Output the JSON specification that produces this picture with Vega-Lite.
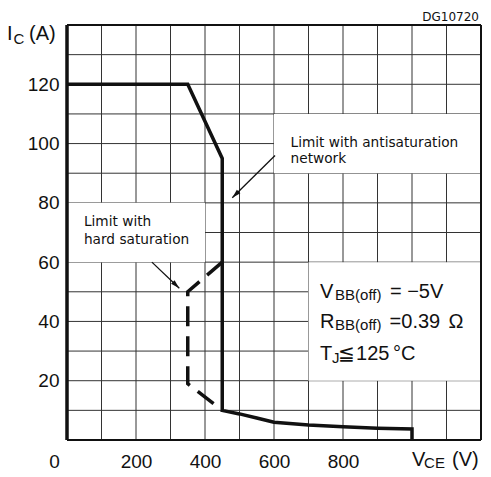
{
  "$schema": "https://vega.github.io/schema/vega-lite/v6.json",
  "width": 414,
  "height": 415,
  "autosize": {"type": "none"},
  "padding": {"left": 67, "top": 25, "right": 10, "bottom": 37},
  "background": "white",
  "config": {
    "view": {"stroke": null},
    "font": "Liberation Sans",
    "axis": {"grid": false, "tickSize": 0, "domain": false}
  },
  "datasets": {
    "gridx": [
      {"g": 100}, {"g": 200}, {"g": 300}, {"g": 400}, {"g": 500}, {"g": 600},
      {"g": 700}, {"g": 800}, {"g": 900}, {"g": 1000}, {"g": 1100}
    ],
    "gridy": [
      {"g": 10}, {"g": 20}, {"g": 30}, {"g": 40}, {"g": 50}, {"g": 60}, {"g": 70},
      {"g": 80}, {"g": 90}, {"g": 100}, {"g": 110}, {"g": 120}, {"g": 130}
    ],
    "boxes": [
      {"v": 0, "v2": 400, "a": 60, "a2": 80},
      {"v": 600, "v2": 1200, "a": 90, "a2": 110},
      {"v": 700, "v2": 1200, "a": 20, "a2": 60}
    ],
    "solid": [
      {"i": 0, "v": 0, "a": 120},
      {"i": 1, "v": 350, "a": 120},
      {"i": 2, "v": 450, "a": 95},
      {"i": 3, "v": 450, "a": 10},
      {"i": 4, "v": 500, "a": 8.8},
      {"i": 5, "v": 550, "a": 7.4},
      {"i": 6, "v": 600, "a": 6},
      {"i": 7, "v": 700, "a": 5.1},
      {"i": 8, "v": 800, "a": 4.5},
      {"i": 9, "v": 900, "a": 4},
      {"i": 10, "v": 1000, "a": 3.7},
      {"i": 11, "v": 1000, "a": 0}
    ],
    "dashed": [
      {"i": 0, "v": 450, "a": 60},
      {"i": 1, "v": 350, "a": 50},
      {"i": 2, "v": 350, "a": 19},
      {"i": 3, "v": 450, "a": 10}
    ],
    "arrows": [
      {"id": "hard", "i": 0, "v": 246, "a": 60},
      {"id": "hard", "i": 1, "v": 325.5, "a": 51.2},
      {"id": "anti", "i": 0, "v": 603, "a": 96},
      {"id": "anti", "i": 1, "v": 479, "a": 81.7}
    ],
    "notes": [
      {"v": 49, "a": 72.2, "t": "Limit with"},
      {"v": 49, "a": 66.1, "t": "hard saturation"},
      {"v": 648, "a": 99, "t": "Limit with antisaturation"},
      {"v": 648, "a": 93.6, "t": "network"}
    ],
    "big": [
      {"v": -174, "a": 135, "t": "I"},
      {"v": -110, "a": 135, "t": "(A)"},
      {"v": 1000, "a": -8.8, "t": "V"},
      {"v": 1116, "a": -8.8, "t": "(V)"},
      {"v": 733, "a": 47.9, "t": "V"},
      {"v": 936, "a": 47.9, "t": "= −5V"},
      {"v": 733, "a": 37.8, "t": "R"},
      {"v": 935, "a": 37.8, "t": "=0.39"},
      {"v": 1106, "a": 37.8, "t": "Ω"},
      {"v": 733, "a": 27, "t": "T"},
      {"v": 786, "a": 27, "t": "≦"},
      {"v": 838, "a": 27, "t": "125"},
      {"v": 945, "a": 27, "t": "°C"}
    ],
    "sub": [
      {"v": -155, "a": 133.6, "t": "C"},
      {"v": 1035, "a": -9.4, "t": "CE"},
      {"v": 777, "a": 47.2, "t": "BB(off)"},
      {"v": 777, "a": 37.1, "t": "BB(off)"},
      {"v": 768, "a": 26, "t": "J"}
    ],
    "code": [
      {"v": 1194, "a": 141.4, "t": "DG10720"}
    ]
  },
  "layer": [
    {
      "data": {"name": "gridx"},
      "mark": {"type": "rule", "color": "#333", "strokeWidth": 1},
      "encoding": {
        "x": {
          "field": "g", "type": "quantitative",
          "scale": {"domain": [0, 1200], "nice": false, "zero": false},
          "axis": {
            "values": [0, 200, 400, 600, 800],
            "title": null,
            "labelFont": "Liberation Sans", "labelFontSize": 19, "labelColor": "#111",
            "labelPadding": 12, "labelFlush": false, "labelOverlap": false,
            "labelOffset": {"condition": {"test": "datum.value === 0", "value": -13}, "value": 0}
          }
        }
      }
    },
    {
      "data": {"name": "gridy"},
      "mark": {"type": "rule", "color": "#333", "strokeWidth": 1},
      "encoding": {
        "y": {
          "field": "g", "type": "quantitative",
          "scale": {"domain": [0, 140], "nice": false, "zero": false},
          "axis": {
            "values": [20, 40, 60, 80, 100, 120],
            "title": null,
            "labelFont": "Liberation Sans", "labelFontSize": 19, "labelColor": "#111",
            "labelPadding": 8, "labelFlush": false, "labelOverlap": false
          }
        }
      }
    },
    {
      "data": {"name": "boxes"},
      "mark": {"type": "rect", "fill": "white", "stroke": null},
      "encoding": {
        "x": {"field": "v", "type": "quantitative"},
        "x2": {"field": "v2"},
        "y": {"field": "a", "type": "quantitative"},
        "y2": {"field": "a2"}
      }
    },
    {
      "data": {"name": "dashed"},
      "mark": {"type": "line", "color": "#111", "strokeWidth": 3.5, "strokeDash": [20, 10], "strokeCap": "butt", "strokeJoin": "miter"},
      "encoding": {
        "x": {"field": "v", "type": "quantitative"},
        "y": {"field": "a", "type": "quantitative"},
        "order": {"field": "i"}
      }
    },
    {
      "data": {"name": "solid"},
      "mark": {"type": "line", "color": "#111", "strokeWidth": 3.5, "strokeJoin": "miter"},
      "encoding": {
        "x": {"field": "v", "type": "quantitative"},
        "y": {"field": "a", "type": "quantitative"},
        "order": {"field": "i"}
      }
    },
    {
      "data": {"name": "arrows"},
      "mark": {"type": "line", "color": "#111", "strokeWidth": 1.3},
      "encoding": {
        "x": {"field": "v", "type": "quantitative"},
        "y": {"field": "a", "type": "quantitative"},
        "detail": {"field": "id"},
        "order": {"field": "i"}
      }
    },
    {
      "data": {"name": "arrows"},
      "transform": [{"filter": "datum.id === 'hard' && datum.i === 1"}],
      "mark": {"type": "point", "shape": "M0,0L0.5,1.8L-0.5,1.8Z", "filled": true, "size": 100, "angle": 134, "color": "#111", "opacity": 1},
      "encoding": {
        "x": {"field": "v", "type": "quantitative"},
        "y": {"field": "a", "type": "quantitative"}
      }
    },
    {
      "data": {"name": "arrows"},
      "transform": [{"filter": "datum.id === 'anti' && datum.i === 1"}],
      "mark": {"type": "point", "shape": "M0,0L0.5,1.8L-0.5,1.8Z", "filled": true, "size": 100, "angle": 225, "color": "#111", "opacity": 1},
      "encoding": {
        "x": {"field": "v", "type": "quantitative"},
        "y": {"field": "a", "type": "quantitative"}
      }
    },
    {
      "data": {"name": "notes"},
      "mark": {"type": "text", "font": "DejaVu Sans", "fontSize": 13.7, "align": "left", "baseline": "alphabetic", "color": "#111"},
      "encoding": {
        "x": {"field": "v", "type": "quantitative"},
        "y": {"field": "a", "type": "quantitative"},
        "text": {"field": "t"}
      }
    },
    {
      "data": {"name": "big"},
      "mark": {"type": "text", "font": "Liberation Sans", "fontSize": 20, "align": "left", "baseline": "alphabetic", "color": "#111"},
      "encoding": {
        "x": {"field": "v", "type": "quantitative"},
        "y": {"field": "a", "type": "quantitative"},
        "text": {"field": "t"}
      }
    },
    {
      "data": {"name": "sub"},
      "mark": {"type": "text", "font": "Liberation Sans", "fontSize": 15, "align": "left", "baseline": "alphabetic", "color": "#111"},
      "encoding": {
        "x": {"field": "v", "type": "quantitative"},
        "y": {"field": "a", "type": "quantitative"},
        "text": {"field": "t"}
      }
    },
    {
      "data": {"name": "code"},
      "mark": {"type": "text", "font": "DejaVu Sans", "fontSize": 12, "align": "right", "baseline": "alphabetic", "color": "#111"},
      "encoding": {
        "x": {"field": "v", "type": "quantitative"},
        "y": {"field": "a", "type": "quantitative"},
        "text": {"field": "t"}
      }
    },
    {
      "data": {"values": [{"v": 1200, "a": 0, "a2": 140}]},
      "mark": {"type": "rule", "color": "#111", "strokeWidth": 2},
      "encoding": {
        "x": {"field": "v", "type": "quantitative"},
        "y": {"field": "a", "type": "quantitative"},
        "y2": {"field": "a2"}
      }
    },
    {
      "data": {"values": [{"v": 0, "v2": 1200, "a": 0}, {"v": 0, "v2": 1200, "a": 140}]},
      "mark": {"type": "rule", "color": "#111", "strokeWidth": 2},
      "encoding": {
        "x": {"field": "v", "type": "quantitative"},
        "x2": {"field": "v2"},
        "y": {"field": "a", "type": "quantitative"}
      }
    },
    {
      "data": {"values": [{"v": 0, "a": 0, "a2": 140}]},
      "mark": {"type": "rule", "color": "#111", "strokeWidth": 3.5},
      "encoding": {
        "x": {"field": "v", "type": "quantitative"},
        "y": {"field": "a", "type": "quantitative"},
        "y2": {"field": "a2"}
      }
    }
  ]
}
